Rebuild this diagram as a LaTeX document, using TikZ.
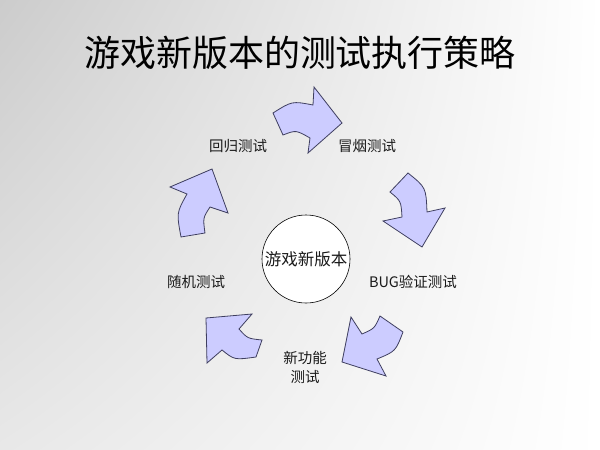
\documentclass[tikz,border=0pt]{standalone}
\usepackage{fontspec}
\usetikzlibrary{shadings}
\setmainfont{Liberation Serif}
\newfontfamily\cjk{Noto Sans CJK SC}
\definecolor{arrowfill}{HTML}{CCCCFF}
\definecolor{arrowline}{HTML}{3F3F60}
\definecolor{txt}{HTML}{1A1A1A}
\begin{document}
\begin{tikzpicture}[x=1pt,y=-1pt,
  cyc/.style={fill=arrowfill,draw=arrowline,line width=0.8pt,line join=miter},
  lbl/.style={text=txt,font=\cjk\fontsize{14.5}{19}\selectfont,inner sep=0pt,align=center}]
\useasboundingbox (0,0) rectangle (600,450);
\shade[upper left=black!20,lower left=black!9,upper right=white,lower right=white] (0,0) rectangle (600,450);
% title
\node[text=black,font=\cjk\fontsize{36}{40}\selectfont,inner sep=0pt] (title) at (300,53) {游戏新版本的测试执行策略};
% center circle
\node[circle,draw=black,line width=0.6pt,fill=white,minimum size=88pt,inner sep=0pt,
      text=txt,font=\cjk\fontsize{16.5}{20}\selectfont] (core) at (306,259) {游戏新版本};
% labels
\node[lbl] (huigui) at (238,146) {回归测试};
\node[lbl] (maoyan) at (367,146) {冒烟测试};
\node[lbl] (bug) at (413,282) {BUG{\cjk 验证测试}};
\node[lbl] (xingn) at (305,367) {新功能\\测试};
\node[lbl] (suiji) at (196,282) {随机测试};
% arrows
\draw[cyc] (273,113) .. controls (292,101) .. (313,105) -- (314,87) -- (342,123) -- (308,153) -- (310,138) .. controls (296,130) .. (283,135) -- cycle;
\draw[cyc] (408,173) .. controls (426,187.5) .. (427,212) -- (445,208) -- (422,247) -- (383,221) -- (402,217) .. controls (401,201) .. (390,192) -- cycle;
\draw[cyc] (403,332) .. controls (395.6,351.3) .. (377,359) -- (386,376) -- (342,362) -- (351,317) -- (362,334) .. controls (374.5,328.5) .. (380,316) -- cycle;
\draw[cyc] (256,357) .. controls (234.4,360) .. (222,350) -- (207,363) -- (206,318) -- (252,314) -- (239,329) .. controls (247.5,338.5) .. (262,340) -- cycle;
\draw[cyc] (187,194) .. controls (176.5,212.8) .. (181,237) -- (205,233) .. controls (202.9,218) .. (210,207) -- (228,213) -- (212,169) -- (170,187) -- cycle;
\end{tikzpicture}
\end{document}
